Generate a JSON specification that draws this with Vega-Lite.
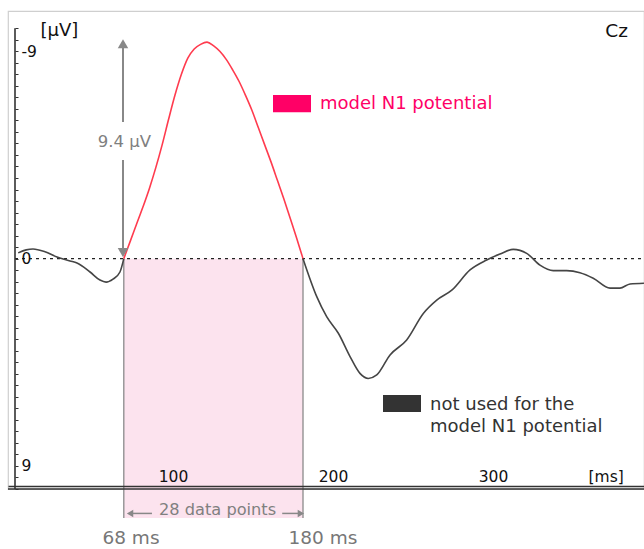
{
  "$schema": "https://vega.github.io/schema/vega-lite/v6.json",
  "width": 636,
  "height": 478,
  "autosize": {"type": "none"},
  "padding": {"left": 8, "top": 11, "right": 0, "bottom": 60},
  "config": {"view": {"stroke": "#cfcfcf", "strokeWidth": 1.2}, "font": "DejaVu Sans"},
  "datasets": {
    "erp": [
      {"t": 2, "v": -0.25, "seg": "pre"},
      {"t": 7, "v": -0.38, "seg": "pre"},
      {"t": 11.25, "v": -0.42, "seg": "pre"},
      {"t": 18.75, "v": -0.3, "seg": "pre"},
      {"t": 26.25, "v": -0.07, "seg": "pre"},
      {"t": 34.4, "v": 0.1, "seg": "pre"},
      {"t": 38.75, "v": 0.19, "seg": "pre"},
      {"t": 46.9, "v": 0.58, "seg": "pre"},
      {"t": 53.1, "v": 0.93, "seg": "pre"},
      {"t": 56.9, "v": 1.02, "seg": "pre"},
      {"t": 61.25, "v": 0.89, "seg": "pre"},
      {"t": 65.6, "v": 0.58, "seg": "pre"},
      {"t": 68, "v": 0, "seg": "pre"},
      {"t": 68, "v": 0, "seg": "n1"},
      {"t": 72, "v": -0.75, "seg": "n1"},
      {"t": 76, "v": -1.5, "seg": "n1"},
      {"t": 80, "v": -2.25, "seg": "n1"},
      {"t": 84, "v": -3.05, "seg": "n1"},
      {"t": 88, "v": -3.95, "seg": "n1"},
      {"t": 92, "v": -4.95, "seg": "n1"},
      {"t": 96, "v": -6.05, "seg": "n1"},
      {"t": 100, "v": -7.1, "seg": "n1"},
      {"t": 104, "v": -8.0, "seg": "n1"},
      {"t": 108, "v": -8.7, "seg": "n1"},
      {"t": 112, "v": -9.1, "seg": "n1"},
      {"t": 116, "v": -9.3, "seg": "n1"},
      {"t": 120, "v": -9.4, "seg": "n1"},
      {"t": 124, "v": -9.25, "seg": "n1"},
      {"t": 128, "v": -9.0, "seg": "n1"},
      {"t": 132, "v": -8.65, "seg": "n1"},
      {"t": 136, "v": -8.2, "seg": "n1"},
      {"t": 140, "v": -7.7, "seg": "n1"},
      {"t": 144, "v": -7.1, "seg": "n1"},
      {"t": 148, "v": -6.45, "seg": "n1"},
      {"t": 152, "v": -5.7, "seg": "n1"},
      {"t": 156, "v": -4.95, "seg": "n1"},
      {"t": 160, "v": -4.2, "seg": "n1"},
      {"t": 164, "v": -3.4, "seg": "n1"},
      {"t": 168, "v": -2.6, "seg": "n1"},
      {"t": 172, "v": -1.75, "seg": "n1"},
      {"t": 176, "v": -0.9, "seg": "n1"},
      {"t": 180, "v": 0, "seg": "n1"},
      {"t": 180, "v": 0, "seg": "post"},
      {"t": 188.6, "v": 1.65, "seg": "post"},
      {"t": 194.8, "v": 2.52, "seg": "post"},
      {"t": 202.1, "v": 3.24, "seg": "post"},
      {"t": 209.4, "v": 4.25, "seg": "post"},
      {"t": 215.6, "v": 4.98, "seg": "post"},
      {"t": 220.8, "v": 5.2, "seg": "post"},
      {"t": 226.1, "v": 5.05, "seg": "post"},
      {"t": 234.4, "v": 4.18, "seg": "post"},
      {"t": 244.8, "v": 3.53, "seg": "post"},
      {"t": 255.2, "v": 2.38, "seg": "post"},
      {"t": 263.6, "v": 1.8, "seg": "post"},
      {"t": 273, "v": 1.37, "seg": "post"},
      {"t": 284.4, "v": 0.49, "seg": "post"},
      {"t": 294.8, "v": 0.06, "seg": "post"},
      {"t": 303.1, "v": -0.2, "seg": "post"},
      {"t": 311.4, "v": -0.4, "seg": "post"},
      {"t": 319.8, "v": -0.23, "seg": "post"},
      {"t": 328.1, "v": 0.28, "seg": "post"},
      {"t": 336.4, "v": 0.52, "seg": "post"},
      {"t": 344.8, "v": 0.52, "seg": "post"},
      {"t": 353.1, "v": 0.61, "seg": "post"},
      {"t": 361.4, "v": 0.85, "seg": "post"},
      {"t": 371.9, "v": 1.28, "seg": "post"},
      {"t": 378.1, "v": 1.28, "seg": "post"},
      {"t": 384.4, "v": 1.1, "seg": "post"},
      {"t": 393.1, "v": 1.07, "seg": "post"}
    ]
  },
  "layer": [
    {
      "data": {"values": [{}]},
      "mark": {"type": "rect", "color": "#fce3ee"},
      "encoding": {"x": {"datum": 68}, "x2": {"datum": 180}, "y": {"datum": 0}, "y2": {"datum": 11.26}}
    },
    {
      "data": {"values": [{}]},
      "mark": {"type": "rule", "color": "#8a8a8a", "strokeWidth": 1.3},
      "encoding": {"x": {"datum": 68}, "y": {"datum": 0}, "y2": {"datum": 11.26}}
    },
    {
      "data": {"values": [{}]},
      "mark": {"type": "rule", "color": "#8a8a8a", "strokeWidth": 1.3},
      "encoding": {"x": {"datum": 180}, "y": {"datum": 0}, "y2": {"datum": 11.26}}
    },
    {
      "data": {"values": [{}]},
      "mark": {"type": "rule", "color": "#222", "strokeWidth": 1.2, "strokeDash": [3, 4]},
      "encoding": {"x": {"datum": 0}, "x2": {"datum": 393.1}, "y": {"datum": 0}}
    },
    {
      "data": {"values": [{}]},
      "mark": {"type": "rule", "color": "#333", "strokeWidth": 1.6},
      "encoding": {"x": {"datum": 0}, "y": {"datum": -10}, "y2": {"datum": 10}}
    },
    {
      "data": {"values": [{}]},
      "mark": {"type": "rule", "color": "#333", "strokeWidth": 1.4},
      "encoding": {"y": {"datum": 10}}
    },
    {
      "data": {"name": "erp"},
      "mark": {"type": "line", "strokeWidth": 1.6, "interpolate": "monotone"},
      "encoding": {
        "x": {
          "field": "t", "type": "quantitative",
          "scale": {"domain": [-4.375, 393.125], "nice": false, "zero": false},
          "axis": {
            "orient": "bottom", "offset": -3, "values": [100, 200, 300], "grid": false, "zindex": 1,
            "domainColor": "#333", "domainWidth": 1.4, "ticks": false, "tickSize": 0,
            "labelPadding": -5, "labelBaseline": "alphabetic", "labelOffset": -2,
            "labelFontSize": 15.5, "labelColor": "#111", "labelFlush": false,
            "title": "[ms]", "titleX": 580, "titleY": -5, "titleAlign": "left",
            "titleBaseline": "alphabetic", "titleFontSize": 15.5, "titleFontWeight": "normal", "titleColor": "#111"
          }
        },
        "y": {
          "field": "v", "type": "quantitative",
          "scale": {"domain": [-10.75, 10], "reverse": true, "nice": false, "zero": false},
          "axis": {
            "orient": "left", "offset": -7, "domain": false, "grid": false, "zindex": 1,
            "values": [-10, -9.5, -9, -8.5, -8, -7.5, -7, -6.5, -6, -5.5, -5, -4.5, -4, -3.5, -3, -2.5, -2, -1.5, -1, -0.5, 0, 0.5, 1, 1.5, 2, 2.5, 3, 3.5, 4, 4.5, 5, 5.5, 6, 6.5, 7, 7.5, 8, 8.5, 9, 9.5, 10],
            "tickCount": 100,
            "tickSize": -3, "tickColor": "#333", "tickWidth": 1,
            "labelExpr": "datum.value == -9 ? '-9' : datum.value == 0 ? '0' : datum.value == 9 ? '9' : ''",
            "labelAlign": "left", "labelBaseline": "middle", "labelPadding": -3, "labelOverlap": false, "labelFlush": false,
            "labelFontSize": 15.5, "labelColor": "#111",
            "title": "[µV]", "titleAngle": 0, "titleAlign": "left", "titleBaseline": "alphabetic",
            "titleX": 25, "titleY": 24, "titleFontSize": 18, "titleFontWeight": "normal", "titleColor": "#111"
          }
        },
        "color": {
          "field": "seg", "type": "nominal",
          "scale": {"domain": ["pre", "n1", "post"], "range": ["#454545", "#ff3b4e", "#454545"]},
          "legend": null
        }
      }
    },
    {
      "data": {"values": [{}]},
      "mark": {"type": "rule", "color": "#888", "strokeWidth": 2},
      "encoding": {"x": {"datum": 67.5}, "y": {"datum": -9.15}, "y2": {"datum": -5.93}}
    },
    {
      "data": {"values": [{}]},
      "mark": {"type": "rule", "color": "#888", "strokeWidth": 2},
      "encoding": {"x": {"datum": 67.5}, "y": {"datum": -4.28}, "y2": {"datum": -0.4}}
    },
    {
      "data": {"values": [{}]},
      "mark": {"type": "point", "shape": "triangle-up", "filled": true, "size": 110, "color": "#888", "opacity": 1},
      "encoding": {"x": {"datum": 67.5}, "y": {"datum": -9.33}}
    },
    {
      "data": {"values": [{}]},
      "mark": {"type": "point", "shape": "triangle-down", "filled": true, "size": 110, "color": "#888", "opacity": 1},
      "encoding": {"x": {"datum": 67.5}, "y": {"datum": -0.26}}
    },
    {
      "data": {"values": [{}]},
      "mark": {"type": "text", "text": "9.4 µV", "align": "center", "baseline": "middle", "fontSize": 16.5, "color": "#7f7f7f"},
      "encoding": {"x": {"datum": 68.4}, "y": {"datum": -5.05}}
    },
    {
      "data": {"values": [{}]},
      "mark": {"type": "rule", "color": "#888", "strokeWidth": 1.5},
      "encoding": {"x": {"datum": 72.5}, "x2": {"datum": 85.6}, "y": {"datum": 11.06}}
    },
    {
      "data": {"values": [{}]},
      "mark": {"type": "rule", "color": "#888", "strokeWidth": 1.5},
      "encoding": {"x": {"datum": 167}, "x2": {"datum": 177.5}, "y": {"datum": 11.06}}
    },
    {
      "data": {"values": [{}]},
      "mark": {"type": "point", "shape": "triangle-left", "filled": true, "size": 55, "color": "#888", "opacity": 1},
      "encoding": {"x": {"datum": 71.9}, "y": {"datum": 11.06}}
    },
    {
      "data": {"values": [{}]},
      "mark": {"type": "point", "shape": "triangle-right", "filled": true, "size": 55, "color": "#888", "opacity": 1},
      "encoding": {"x": {"datum": 178.7}, "y": {"datum": 11.06}}
    },
    {
      "data": {"values": [{}]},
      "mark": {"type": "text", "text": "28 data points", "align": "center", "baseline": "alphabetic", "fontSize": 16.2, "color": "#808080"},
      "encoding": {"x": {"datum": 126.6}, "y": {"datum": 11.14}}
    },
    {
      "data": {"values": [{}]},
      "mark": {"type": "text", "text": "68 ms", "align": "center", "baseline": "alphabetic", "fontSize": 18.5, "color": "#777"},
      "encoding": {"x": {"datum": 72.5}, "y": {"datum": 12.39}}
    },
    {
      "data": {"values": [{}]},
      "mark": {"type": "text", "text": "180 ms", "align": "center", "baseline": "alphabetic", "fontSize": 18.5, "color": "#777"},
      "encoding": {"x": {"datum": 192.5}, "y": {"datum": 12.39}}
    },
    {
      "data": {"values": [{}]},
      "mark": {"type": "rect", "color": "#ff0066"},
      "encoding": {"x": {"datum": 161.25}, "x2": {"datum": 185}, "y": {"datum": -7.1}, "y2": {"datum": -6.36}}
    },
    {
      "data": {"values": [{}]},
      "mark": {"type": "text", "text": "model N1 potential", "align": "left", "baseline": "middle", "fontSize": 18, "color": "#ff0066"},
      "encoding": {"x": {"datum": 190.6}, "y": {"datum": -6.71}}
    },
    {
      "data": {"values": [{}]},
      "mark": {"type": "rect", "color": "#333333"},
      "encoding": {"x": {"datum": 230}, "x2": {"datum": 253.75}, "y": {"datum": 5.92}, "y2": {"datum": 6.66}}
    },
    {
      "data": {"values": [{}]},
      "mark": {"type": "text", "text": ["not used for the", "model N1 potential"], "lineHeight": 22, "align": "left", "baseline": "alphabetic", "fontSize": 18, "color": "#333"},
      "encoding": {"x": {"datum": 259.4}, "y": {"datum": 6.58}}
    },
    {
      "data": {"values": [{}]},
      "mark": {"type": "text", "text": "Cz", "align": "right", "baseline": "alphabetic", "fontSize": 18.5, "color": "#111"},
      "encoding": {"x": {"datum": 383.1}, "y": {"datum": -9.62}}
    }
  ]
}
